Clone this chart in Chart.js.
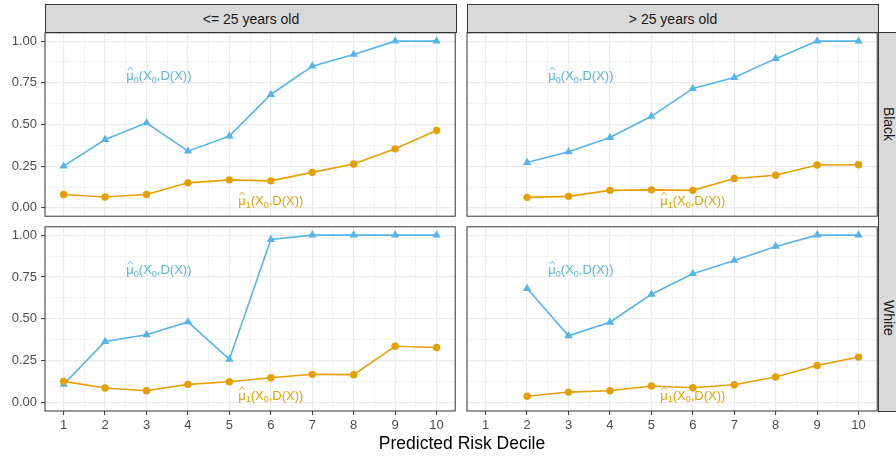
<!DOCTYPE html>
<html>
<head>
<meta charset="utf-8">
<script src="https://cdn.jsdelivr.net/npm/chart.js@4"></script>
<style>
  body { margin: 0; background: #ffffff; }
  #fig { position: relative; width: 896px; height: 457px; background: #ffffff; overflow: hidden;
         font-family: "Liberation Sans", Arial, sans-serif; }
  canvas { position: absolute; }
  .strip { position: absolute; box-sizing: border-box; background: #D9D9D9; border: 1px solid #333333;
           color: #1A1A1A; font-size: 14px; display: flex; align-items: center; justify-content: center; }
  .vlab { position: absolute; transform: translate(-50%, -50%) rotate(90deg); font-size: 14px; color: #1A1A1A; white-space: nowrap; }
  #xtitle { position: absolute; left: 462px; top: 443px; transform: translate(-50%, -50%);
            font-size: 17.5px; color: #000000; white-space: nowrap; }
</style>
</head>
<body>
<div id="fig">
  <div class="strip" style="left:45px; top:4px; width:412px; height:29px;">&lt;= 25 years old</div>
  <div class="strip" style="left:467px; top:4px; width:412px; height:29px;">&gt; 25 years old</div>
  <div class="strip" style="left:878px; top:32px; width:20px; height:380px;"></div>
  <div class="vlab" style="left:889px; top:124px;">Black</div>
  <div class="vlab" style="left:889px; top:318px;">White</div>

  <canvas id="pTL"></canvas>
  <canvas id="pTR"></canvas>
  <canvas id="pBL"></canvas>
  <canvas id="pBR"></canvas>

  <div id="xtitle">Predicted Risk Decile</div>
</div>

<script>
// Deciles (x) per age group
const decilesYoung = [1, 2, 3, 4, 5, 6, 7, 8, 9, 10];
const decilesOld = [2, 3, 4, 5, 6, 7, 8, 9, 10];

// Ticks
const xTicks = [1, 2, 3, 4, 5, 6, 7, 8, 9, 10];
const yTicks = [0, 0.25, 0.5, 0.75, 1];
const yTickLabels = ['0.00', '0.25', '0.50', '0.75', '1.00'];

// Black, <= 25
const blackYoungMu0 = [0.25, 0.41, 0.51, 0.34, 0.43, 0.68, 0.85, 0.92, 1.00, 1.00];
const blackYoungMu1 = [0.08, 0.065, 0.08, 0.15, 0.168, 0.162, 0.213, 0.263, 0.354, 0.464];
// Black, > 25
const blackOldMu0 = [0.272, 0.336, 0.422, 0.549, 0.716, 0.782, 0.895, 1.00, 1.00];
const blackOldMu1 = [0.063, 0.069, 0.105, 0.108, 0.105, 0.176, 0.196, 0.257, 0.259];
// White, <= 25
const whiteYoungMu0 = [0.109, 0.365, 0.405, 0.482, 0.258, 0.974, 1.00, 1.00, 1.00, 1.00];
const whiteYoungMu1 = [0.127, 0.087, 0.071, 0.109, 0.125, 0.149, 0.169, 0.167, 0.337, 0.329];
// White, > 25
const whiteOldMu0 = [0.681, 0.399, 0.48, 0.647, 0.77, 0.849, 0.933, 1.00, 1.00];
const whiteOldMu1 = [0.038, 0.063, 0.071, 0.099, 0.089, 0.107, 0.153, 0.222, 0.272];

// Where the text labels sit (data coords)
const labelMu0Pos = [3.3, 0.79];
const labelMu1Pos = [6.0, 0.04];

const colorMu0 = '#56B4E9';
const colorMu1 = '#E69F00';
const FONT = '"Liberation Sans", Arial, sans-serif';

function puntos(xs, ys) {
    return xs.map((x, i) => ({ x: x, y: ys[i] }));
}

// dibuja mu con gorro y subíndices
function dibujarEtiqueta(ctx, cx, cy, subIdx, color) {
    const piezas = [
        { t: '\u03BC', hat: true },
        { t: subIdx, sub: true },
        { t: '(X' },
        { t: '0', sub: true },
        { t: ',D(X))' }
    ];
    const fMain = '13px ' + FONT;
    const fSub = '9px ' + FONT;
    let total = 0;
    piezas.forEach(p => {
        ctx.font = p.sub ? fSub : fMain;
        p.w = ctx.measureText(p.t).width;
        total += p.w;
    });
    let x = cx - total / 2;
    const base = cy + 4;
    ctx.save();
    ctx.fillStyle = color;
    ctx.strokeStyle = color;
    ctx.textBaseline = 'alphabetic';
    ctx.textAlign = 'left';
    piezas.forEach(p => {
        ctx.font = p.sub ? fSub : fMain;
        ctx.fillText(p.t, x, p.sub ? base + 2.5 : base);
        if (p.hat) {
            ctx.lineWidth = 0.9;
            ctx.beginPath();
            ctx.moveTo(x + 1.2, base - 10);
            ctx.lineTo(x + p.w / 2, base - 13);
            ctx.lineTo(x + p.w - 1.2, base - 10);
            ctx.stroke();
        }
        x += p.w;
    });
    ctx.restore();
}

const panelPlugin = {
    id: 'panelPlugin',
    afterDatasetsDraw(chart) {
        const { ctx, chartArea, scales } = chart;
        const sx = scales.x, sy = scales.y;
        dibujarEtiqueta(ctx, sx.getPixelForValue(labelMu0Pos[0]), sy.getPixelForValue(labelMu0Pos[1]), '0', colorMu0);
        dibujarEtiqueta(ctx, sx.getPixelForValue(labelMu1Pos[0]), sy.getPixelForValue(labelMu1Pos[1]), '1', colorMu1);
        ctx.save();
        ctx.strokeStyle = '#333333';
        ctx.lineWidth = 1;
        ctx.strokeRect(chartArea.left, chartArea.top, chartArea.right - chartArea.left, chartArea.bottom - chartArea.top);
        ctx.restore();
    }
};

function crearPanel(id, caja, xs, mu0, mu1, verY, verX) {
    const canvas = document.getElementById(id);
    const m = caja.m; // margins: l (y axis), r, t, b (x axis)
    const w = m.l + caja.w + m.r;
    const h = m.t + caja.h + m.b;
    canvas.width = w;
    canvas.height = h;
    canvas.style.width = w + 'px';
    canvas.style.height = h + 'px';
    canvas.style.left = (caja.x - m.l) + 'px';
    canvas.style.top = (caja.y - m.t) + 'px';

    const xMinor = xTicks.slice(0, -1).map(v => v + 0.5);
    const yMinor = yTicks.slice(0, -1).map(v => v + 0.125);
    const esMayorX = v => xTicks.includes(v);
    const esMayorY = v => yTicks.some(t => Math.abs(t - v) < 1e-9);

    return new Chart(canvas.getContext('2d'), {
        type: 'line',
        data: {
            datasets: [
                {
                    label: 'mu1',
                    data: puntos(xs, mu1),
                    borderColor: colorMu1,
                    backgroundColor: colorMu1,
                    borderWidth: 1.6,
                    pointStyle: 'circle',
                    pointRadius: 3.7,
                    pointBorderWidth: 0,
                    tension: 0
                },
                {
                    label: 'mu0',
                    data: puntos(xs, mu0),
                    borderColor: colorMu0,
                    backgroundColor: colorMu0,
                    borderWidth: 1.6,
                    pointStyle: 'triangle',
                    pointRadius: 4.8,
                    pointBorderWidth: 0,
                    tension: 0
                }
            ]
        },
        options: {
            responsive: false,
            animation: false,
            devicePixelRatio: 1,
            layout: { padding: { left: 0, right: m.r, top: m.t, bottom: 0 } },
            plugins: { legend: { display: false }, tooltip: { enabled: false } },
            scales: {
                x: {
                    type: 'linear',
                    min: 0.55,
                    max: 10.45,
                    afterBuildTicks: s => {
                        s.ticks = xTicks.concat(xMinor).sort((a, b) => a - b).map(v => ({ value: v }));
                    },
                    afterFit: s => { s.height = m.b; s.paddingLeft = 0; s.paddingRight = 0; },
                    border: { display: false },
                    grid: {
                        color: '#EBEBEB',
                        lineWidth: c => (c.tick && esMayorX(c.tick.value)) ? 1.2 : 0.6,
                        drawTicks: verX,
                        tickLength: 4,
                        tickWidth: 1,
                        tickColor: c => (c.tick && esMayorX(c.tick.value)) ? '#333333' : 'rgba(0,0,0,0)'
                    },
                    ticks: {
                        display: verX,
                        autoSkip: false,
                        maxRotation: 0,
                        padding: 3,
                        color: '#4D4D4D',
                        font: { family: FONT, size: 13 },
                        callback: v => esMayorX(v) ? String(v) : ''
                    }
                },
                y: {
                    type: 'linear',
                    min: -0.05,
                    max: 1.05,
                    afterBuildTicks: s => {
                        s.ticks = yTicks.concat(yMinor).sort((a, b) => a - b).map(v => ({ value: v }));
                    },
                    afterFit: s => { s.width = m.l; s.paddingTop = 0; s.paddingBottom = 0; },
                    border: { display: false },
                    grid: {
                        color: '#EBEBEB',
                        lineWidth: c => (c.tick && esMayorY(c.tick.value)) ? 1.2 : 0.6,
                        drawTicks: verY,
                        tickLength: 4,
                        tickWidth: 1,
                        tickColor: c => (c.tick && esMayorY(c.tick.value)) ? '#333333' : 'rgba(0,0,0,0)'
                    },
                    ticks: {
                        display: verY,
                        autoSkip: false,
                        padding: 4,
                        color: '#4D4D4D',
                        font: { family: FONT, size: 13 },
                        callback: v => {
                            const i = yTicks.findIndex(t => Math.abs(t - v) < 1e-9);
                            return i >= 0 ? yTickLabels[i] : '';
                        }
                    }
                }
            }
        },
        plugins: [panelPlugin]
    });
}

Chart.defaults.font.family = FONT;

crearPanel('pTL', { x: 45, y: 32, w: 412, h: 185, m: { l: 45, r: 3, t: 4, b: 4 } },
    decilesYoung, blackYoungMu0, blackYoungMu1, true, false);
crearPanel('pTR', { x: 467, y: 32, w: 412, h: 185, m: { l: 5, r: 3, t: 4, b: 4 } },
    decilesOld, blackOldMu0, blackOldMu1, false, false);
crearPanel('pBL', { x: 45, y: 226, w: 412, h: 185, m: { l: 45, r: 3, t: 4, b: 26 } },
    decilesYoung, whiteYoungMu0, whiteYoungMu1, true, true);
crearPanel('pBR', { x: 467, y: 226, w: 412, h: 185, m: { l: 5, r: 3, t: 4, b: 26 } },
    decilesOld, whiteOldMu0, whiteOldMu1, false, true);
</script>
</body>
</html>
